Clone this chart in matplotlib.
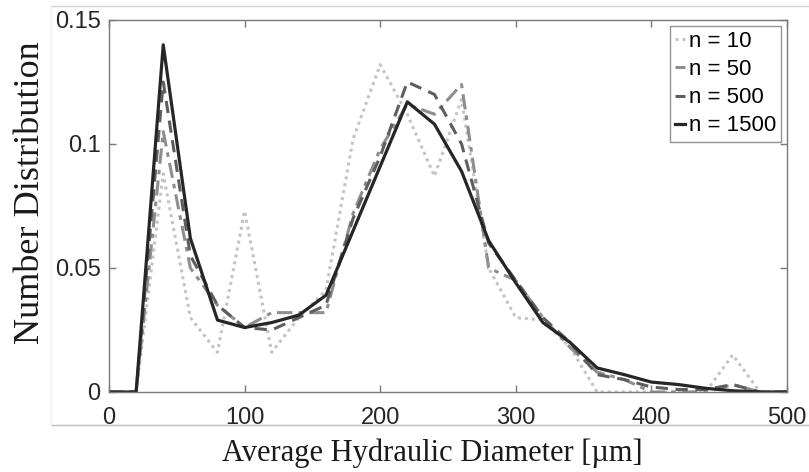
import matplotlib
matplotlib.use("Agg")
import matplotlib.pyplot as plt
from matplotlib.lines import Line2D

diameter = [0, 20, 40, 60, 80, 100, 120, 140, 160, 180, 200, 220, 240, 260,
            280, 300, 320, 340, 360, 380, 400, 420, 440, 460, 480, 500]

n10 = [0, 0, 0.088, 0.030, 0.016, 0.073, 0.016, 0.030, 0.041, 0.102, 0.132, 0.112,
       0.087, 0.118, 0.050, 0.030, 0.029, 0.018, 0.0, 0.0, 0.0, 0.0, 0.0, 0.015, 0.0, 0.0]
n50 = [0, 0, 0.105, 0.050, 0.035, 0.026, 0.032, 0.032, 0.032, 0.072, 0.098, 0.116,
       0.112, 0.124, 0.050, 0.045, 0.030, 0.018, 0.008, 0.005, 0.0, 0.0, 0.0, 0.003, 0.0, 0.0]
n500 = [0, 0, 0.125, 0.055, 0.035, 0.026, 0.025, 0.030, 0.035, 0.070, 0.095, 0.125,
        0.120, 0.100, 0.060, 0.045, 0.030, 0.020, 0.007, 0.005, 0.002, 0.001, 0.001, 0.003, 0.0, 0.0]
n1500 = [0, 0, 0.140, 0.062, 0.029, 0.026, 0.028, 0.031, 0.039, 0.065, 0.091, 0.117,
         0.108, 0.089, 0.061, 0.044, 0.028, 0.020, 0.0097, 0.007, 0.004, 0.003, 0.0015, 0.0005, 0.0, 0.0]

labels = ["n = 10", "n = 50", "n = 500", "n = 1500"]

fig = plt.figure(figsize=(8.09, 4.72), dpi=100)
ax = fig.add_axes([109/809, 1-392/472, (787-109)/809, (392-20)/472])

ax.plot(diameter, n10, color="#c4c4c4", lw=2.2, ls=(0, (1, 1.3)), label=labels[0])
ax.plot(diameter, n50, color="#8e8e8e", lw=2.2, ls=(0, (5, 2, 1.5, 2)), label=labels[1])
ax.plot(diameter, n500, color="#5e5e5e", lw=2.2, ls=(0, (4, 2.5)), label=labels[2])
ax.plot(diameter, n1500, color="#262626", lw=2.3, ls="-", label=labels[3])

ax.set_xlim(0, 500)
ax.set_ylim(0, 0.15)
ax.set_xticks([0, 100, 200, 300, 400, 500])
ax.set_yticks([0, 0.05, 0.1, 0.15])
ax.set_yticklabels(["0", "0.05", "0.1", "0.15"])

for lab in ax.get_xticklabels() + ax.get_yticklabels():
    lab.set_fontfamily("Liberation Sans")
    lab.set_fontsize(17)
    lab.set_color("#262626")

ax.tick_params(direction="in", length=5, width=1, color="#7a7a7a",
               top=True, right=True)
ax.tick_params(axis="x", pad=11)
ax.tick_params(axis="y", pad=6)
for s in ax.spines.values():
    s.set_color("#7a7a7a")
    s.set_linewidth(1.0)

ax.set_xlabel("Average Hydraulic Diameter [µm]", family="Liberation Serif",
              fontsize=22, color="#1a1a1a")
ax.xaxis.set_label_coords((432-109)/(787-109), -(453-392)/(392-20), transform=ax.transAxes)
ax.xaxis.label.set_va("center")
ax.set_ylabel("Number Distribution", family="Liberation Serif",
              fontsize=26, color="#1a1a1a")
ax.yaxis.set_label_coords(-(109-31)/(787-109), (392-193)/(392-20), transform=ax.transAxes)
ax.yaxis.label.set_va("center")

leg = ax.legend(loc="upper right", prop=dict(family="Liberation Sans", size=16),
                handlelength=0.45, handletextpad=0.15, borderpad=0.25,
                labelspacing=0.32, frameon=True, fancybox=False,
                borderaxespad=0.25)
leg.get_frame().set_edgecolor("#7a7a7a")
leg.get_frame().set_linewidth(1.0)

# faint page frame lines
fig.add_artist(Line2D([51/809, 1], [1-6/472, 1-6/472], transform=fig.transFigure,
                      color="#d4d4d4", lw=1))
fig.add_artist(Line2D([51/809, 1], [1-425/472, 1-425/472], transform=fig.transFigure,
                      color="#bdbdbd", lw=1))
fig.add_artist(Line2D([51/809, 51/809], [1-6/472, 1-425/472], transform=fig.transFigure,
                      color="#f0f0f0", lw=1))

fig.savefig("out.png", dpi=100)
